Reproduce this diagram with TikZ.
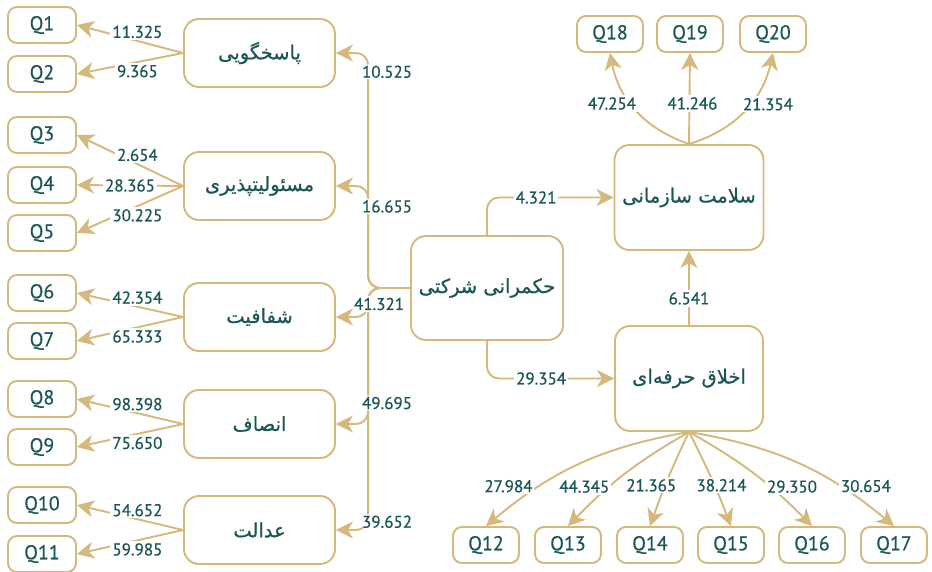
\documentclass[tikz,border=0pt]{standalone}
\usepackage{fontspec}
\setmainfont{PT Sans}[FakeBold=0.6]
\newfontfamily\persianfont[Script=Arabic, FakeBold=0.8]{DejaVu Sans}
\TeXXeTstate=1
\usetikzlibrary{arrows.meta}
\definecolor{gold}{HTML}{D4B87C}
\definecolor{ink}{HTML}{1C5656}
\begin{document}
\begin{tikzpicture}[x=1pt, y=-1pt,
  box/.style={draw=gold, line width=1.9pt, rounded corners=9pt, text=ink, inner sep=0pt},
  qbox/.style={box, minimum width=68pt, minimum height=36pt, font=\fontsize{20}{22}\selectfont},
  catbox/.style={box, rounded corners=15pt, minimum width=151pt, minimum height=68pt,
    font=\persianfont\fontsize{19.5}{24}\selectfont},
  bigbox/.style={catbox, minimum width=149pt, minimum height=105pt},
  conn/.style={draw=gold, line width=1.9pt, -{Stealth[length=17pt,width=17pt,inset=5pt]}},
  lbl/.style={fill=white, text=ink, inner sep=2pt, font=\fontsize{17}{19}\selectfont}]
\useasboundingbox (0,0) rectangle (932,572);

\foreach \i/\y in {1/25, 2/74, 3/135, 4/185, 5/233, 6/293, 7/341, 8/399, 9/447, 10/505, 11/554}
  \node[qbox] (q\i) at (42,\y) {Q\i};
\foreach \i/\x in {12/486, 13/568, 14/650, 15/731, 16/812, 17/894}
  \node[qbox, minimum width=66pt] (q\i) at (\x,545) {Q\i};
\foreach \i/\x in {18/610, 19/690, 20/773}
  \node[qbox, minimum width=66pt] (q\i) at (\x,34) {Q\i};

\node[catbox] (pas) at (259.5,53) {\beginR پاسخگویی\endR};
\node[catbox] (mas) at (259.5,186) {\beginR مسئولیتپذیری\endR};
\node[catbox] (sha) at (259.5,317) {\beginR شفافیت\endR};
\node[catbox] (ens) at (259.5,424) {\beginR انصاف\endR};
\node[catbox] (ada) at (259.5,530) {\beginR عدالت\endR};
\node[bigbox, minimum width=152pt, minimum height=104pt] (cg) at (487,288) {\beginR حکمرانی شرکتی\endR};
\node[bigbox] (hea) at (689,197.5) {\beginR سلامت سازمانی\endR};
\node[bigbox, minimum width=148pt] (eth) at (689,378.5) {\beginR اخلاق حرفه‌ای\endR};

\foreach \b/\q/\v/\s in {pas/1/11.325/above, pas/2/9.365/below,
    mas/3/2.654/above, mas/4/28.365/midway, mas/5/30.225/below,
    sha/6/42.354/above, sha/7/65.333/below, ens/8/98.398/above, ens/9/75.650/below,
    ada/10/54.652/above, ada/11/59.985/below}
  \draw[conn] (\b.west) -- node[lbl, pos=.43, \s] {\v} (q\q.east);

\draw[conn, rounded corners=12pt] (cg.west) -- ++(-42,0) |- node[lbl, pos=.46, xshift=19pt] {10.525} (pas.east);
\draw[conn, rounded corners=12pt] (cg.west) -- ++(-42,0) |- node[lbl, pos=.4, xshift=19pt] {16.655} (mas.east);
\draw[conn, rounded corners=12pt] (cg.west) -- ++(-42,0) |- node[lbl, pos=.483, xshift=19pt] {39.652} (ada.east);
\draw[conn, rounded corners=12pt] (cg.west) -- ++(-42,0) |- node[lbl, pos=.423, xshift=19pt] {49.695} (ens.east);
\draw[conn, rounded corners=12pt] (cg.west) -- ++(-42,0) |- node[lbl, pos=.276, xshift=11pt] {41.321} (sha.east);

\draw[conn, rounded corners=12pt] (cg.north) |- node[lbl, pos=.694] {4.321} (hea.west);
\draw[conn, rounded corners=12pt] (cg.south) |- node[lbl, pos=.713] {29.354} (eth.west);
\draw[conn] (eth.north) -- node[lbl, pos=.36] {6.541} (hea.south);

\draw[conn] (hea.north) to[bend left=30] node[lbl, pos=.57, xshift=-19pt] {47.254} (q18.south);
\draw[conn] (hea.north) -- node[lbl, pos=.446, xshift=3pt] {41.246} (q19.south);
\draw[conn] (hea.north) to[bend right=30] node[lbl, pos=.57, xshift=18pt] {21.354} (q20.south);

\foreach \q/\a/\p/\v/\dx in {12/-15/.72/27.984/-31, 13/-8/.64/44.345/-25, 14/-3/.58/21.365/-14,
    15/3/.58/38.214/7, 16/8/.64/29.350/22, 17/15/.72/30.654/26}
  \draw[conn] (eth.south) to[bend left=\a] node[lbl, pos=\p, xshift=\dx pt] {\v} (q\q.north);
\end{tikzpicture}
\end{document}
